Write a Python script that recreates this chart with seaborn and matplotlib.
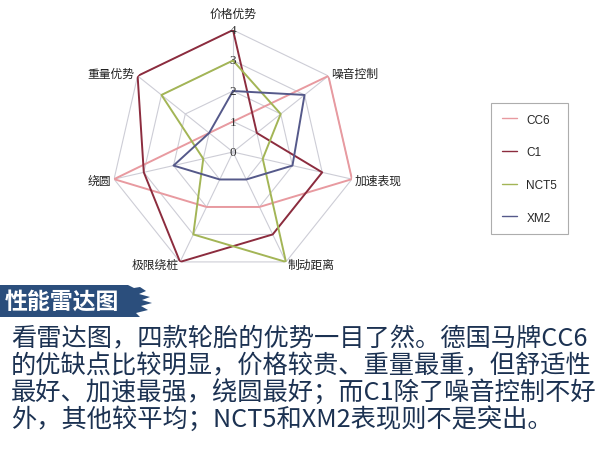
import numpy as np
import pandas as pd
import matplotlib
matplotlib.use("Agg")
import matplotlib.pyplot as plt
import seaborn as sns
from matplotlib.patches import Polygon

# ---------------- data ----------------
categories = ["价格优势", "噪音控制", "加速表现", "制动距离", "极限绕桩", "绕圆", "重量优势"]
tires = ["CC6", "C1", "NCT5", "XM2"]
cc6 = [1, 4, 4, 2, 2, 4, 1]
c1 = [4, 1, 3, 3, 4, 3, 4]
nct5 = [3, 2, 1, 4, 3, 1, 3]
xm2 = [2, 3, 2, 1, 1, 2, 1]
radial_ticks = [0, 1, 2, 3, 4]
title_text = "性能雷达图"
body_lines = [
    "看雷达图，四款轮胎的优势一目了然。德国马牌CC6",
    "的优缺点比较明显，价格较贵、重量最重，但舒适性",
    "最好、加速最强，绕圆最好；而C1除了噪音控制不好",
    "外，其他较平均；NCT5和XM2表现则不是突出。",
]

series = {"CC6": cc6, "C1": c1, "NCT5": nct5, "XM2": xm2}
colors = {"CC6": "#e89aa0", "C1": "#8c2c3e", "NCT5": "#a3b556", "XM2": "#55598a"}

sns.set_theme(style="white")
plt.rcParams["font.family"] = ["Noto Sans CJK SC", "DejaVu Sans"]

W, H = 600, 452
fig = plt.figure(figsize=(6.0, 4.52), dpi=100)
fig.patch.set_facecolor("white")

cx, cy, R = 233, 153, 122
ax = fig.add_axes([(cx - R) / W, (H - cy - R) / H, 2 * R / W, 2 * R / H], projection="polar")
ax.set_theta_offset(np.pi / 2)
ax.set_theta_direction(-1)
ax.set_ylim(0, 4)
ax.grid(False)
ax.spines["polar"].set_visible(False)
ax.set_xticks([])
ax.set_yticks([])
ax.set_facecolor("none")

n = len(categories)
angles = np.linspace(0, 2 * np.pi, n, endpoint=False)
closed = np.append(angles, angles[0])

# heptagon grid
grid_c = "#cdcdd6"
for r in radial_ticks[1:]:
    ax.plot(closed, [r] * (n + 1), color=grid_c, lw=0.8, zorder=1)
for a in angles:
    ax.plot([a, a], [0, radial_ticks[-1]], color=grid_c, lw=0.8, zorder=1)

# data
rows = []
for t in tires:
    vals = series[t] + [series[t][0]]
    for i, (a, v) in enumerate(zip(closed, vals)):
        rows.append({"tire": t, "theta": a, "r": v, "order": i})
df = pd.DataFrame(rows)
sns.lineplot(data=df, x="theta", y="r", hue="tire", hue_order=tires, palette=colors,
             sort=False, estimator=None, units="tire", lw=1.4, ax=ax, zorder=3)
handles, labels = ax.get_legend_handles_labels()
if ax.get_legend() is not None:
    ax.get_legend().remove()
ax.set_xlabel("")
ax.set_ylabel("")
ax.set_ylim(0, 4)

# radial labels
for r in radial_ticks:
    ax.text(0, r, str(r), ha="center", va="center", fontsize=9.5,
            family=["Liberation Serif", "DejaVu Serif"], color="#333333", zorder=4)

# category labels
lab_pos = [
    (4.55, "center", "center"),
    (4.12, "left", "center"),
    (4.1, "left", "center"),
    (4.1, "left", "center"),
    (4.1, "right", "center"),
    (4.1, "right", "center"),
    (4.12, "right", "center"),
]
for a, lab, (r, ha, va) in zip(angles, categories, lab_pos):
    ax.text(a, r, lab, ha=ha, va=va, fontsize=8.5, color="#222222")

# legend
leg = fig.legend(handles, labels, loc="upper left",
                 bbox_to_anchor=(491 / W, 1 - 104 / H), frameon=True,
                 fontsize=8.5, handlelength=1.3, handletextpad=0.8,
                 labelspacing=1.75, borderpad=0.9, borderaxespad=0,
                 prop={"family": ["Liberation Sans", "DejaVu Sans"], "size": 8.5})
leg.get_frame().set_edgecolor("#999999")
leg.get_frame().set_linewidth(0.8)
leg.get_frame().set_boxstyle("square", pad=0)
for line in leg.get_lines():
    line.set_linewidth(1.0)

# banner
def px(x, y):
    return (x / W, 1 - y / H)

edge = [(0, 286), (128, 286), (134, 289), (140, 288), (146, 292), (139, 295), (150, 298),
        (142, 301), (152, 304), (141, 307), (148, 311), (136, 314), (140, 318), (0, 318)]
banner = Polygon([px(x, y) for x, y in edge], closed=True, transform=fig.transFigure,
                 facecolor="#2b4e7c", edgecolor="none", zorder=1)
fig.patches.append(banner)
fig.text(5 / W, 1 - 302 / H, title_text, ha="left", va="center", fontsize=16.5,
         fontweight="bold", color="white")

# body text
line_y = [339, 366, 393, 420]
for y, txt in zip(line_y, body_lines):
    fig.text(11 / W, 1 - y / H, txt, ha="left", va="center", fontsize=18.2,
             color="#1c3252")

fig.savefig("out.png", dpi=100, facecolor="white")
